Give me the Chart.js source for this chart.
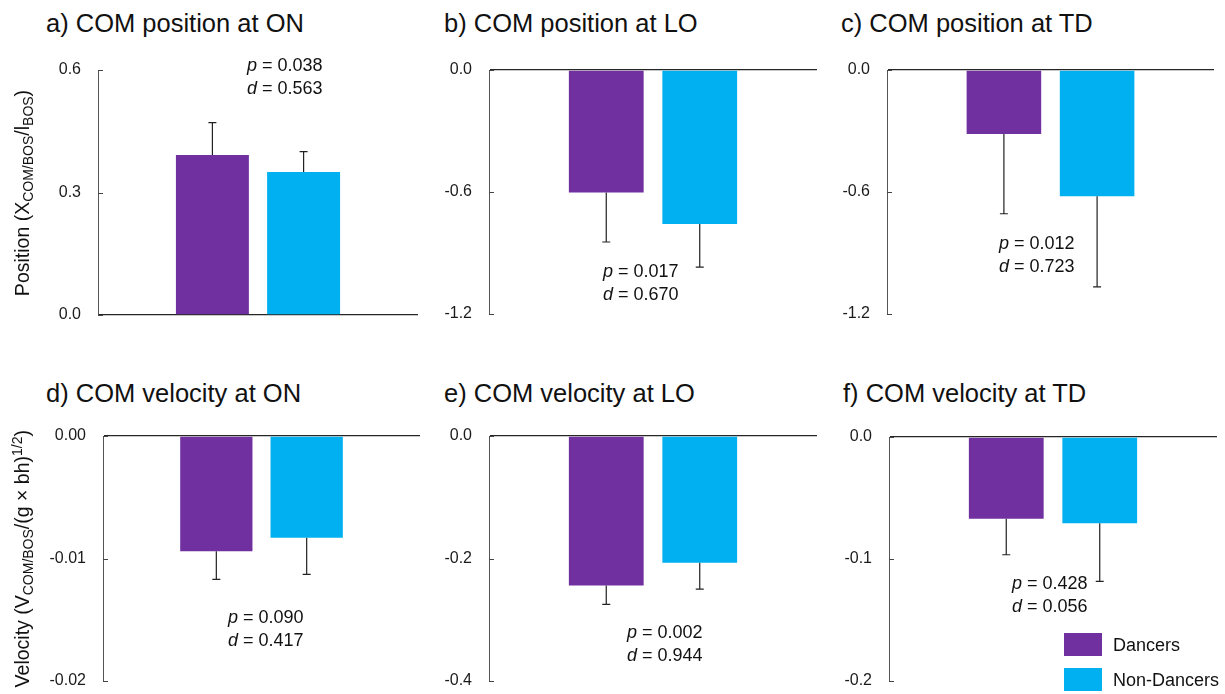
<!DOCTYPE html>
<html>
<head>
<meta charset="utf-8">
<script src="https://cdn.jsdelivr.net/npm/chart.js@4.4.1/dist/chart.umd.min.js"></script>
<style>
  body { margin: 0; background: #fff; font-family: Arial, "Liberation Sans", sans-serif; color: #111; }
  #fig { position: relative; width: 1225px; height: 694px; overflow: hidden; }
  .panel { position: absolute; }
  .ttl { position: absolute; font-size: 25.5px; line-height: 1; white-space: nowrap; }
  .stat { position: absolute; font-size: 18px; line-height: 23px; white-space: nowrap; }
  .ylab { position: absolute; font-size: 19.5px; line-height: 1.2; white-space: nowrap; }
  .ylab.mid { transform: translate(-50%, -50%) rotate(-90deg); }
  .ylab.top { transform-origin: 0 0; transform: rotate(-90deg) translate(-100%, -50%); }
  .ylab sub { font-size: 14px; vertical-align: -0.25em; line-height: 0; }
  .ylab sup { font-size: 14px; vertical-align: 0.5em; line-height: 0; }
  .swatch { position: absolute; width: 38px; height: 23px; }
  .legtxt { position: absolute; font-size: 18px; line-height: 23px; white-space: nowrap; }
</style>
</head>
<body>
<div id="fig"></div>
<script>
// ---- data ----
const panelTitles = [
  'a) COM position at ON', 'b) COM position at LO', 'c) COM position at TD',
  'd) COM velocity at ON', 'e) COM velocity at LO', 'f) COM velocity at TD'
];
const groups = ['Dancers', 'Non-Dancers'];
const dancersMean    = [0.392, -0.603, -0.315, -0.0094, -0.244, -0.067];
const dancersSD      = [0.079,  0.243,  0.392,  0.0023,  0.031,  0.0295];
const nonDancersMean = [0.350, -0.757, -0.621, -0.0083, -0.207, -0.0707];
const nonDancersSD   = [0.050,  0.212,  0.446,  0.0030,  0.043,  0.0476];
const pValues = ['0.038', '0.017', '0.012', '0.090', '0.002', '0.428'];
const dValues = ['0.563', '0.670', '0.723', '0.417', '0.944', '0.056'];
const yTickValues = [
  [0, 0.3, 0.6], [-1.2, -0.6, 0], [-1.2, -0.6, 0],
  [-0.02, -0.01, 0], [-0.4, -0.2, 0], [-0.2, -0.1, 0]
];
const yTickLabels = [
  ['0.0', '0.3', '0.6'], ['-1.2', '-0.6', '0.0'], ['-1.2', '-0.6', '0.0'],
  ['-0.02', '-0.01', '0.00'], ['-0.4', '-0.2', '0.0'], ['-0.2', '-0.1', '0.0']
];

// ---- layout (page pixels) ----
const plotBoxes = [
  { l: 98,  t: 70,  r: 418,  b: 315 },
  { l: 489, t: 70,  r: 817,  b: 314 },
  { l: 887, t: 70,  r: 1214, b: 314 },
  { l: 103, t: 436, r: 420,  b: 681 },
  { l: 489, t: 436, r: 817,  b: 681 },
  { l: 889, t: 437, r: 1217, b: 681 }
];
const titlePos = [[46, 11], [444, 11], [841, 11], [46, 381], [444, 381], [843, 381]];
const statPos  = [[247, 54], [603, 260], [999, 232], [228, 606], [627, 621], [1012, 572]];
const colors = ['#7030A0', '#00B0F0'];

const fig = document.getElementById('fig');

function addDiv(cls, x, y, html) {
  const d = document.createElement('div');
  d.className = cls;
  d.style.left = x + 'px';
  d.style.top = y + 'px';
  d.innerHTML = html;
  fig.appendChild(d);
  return d;
}

// error bars drawn from the bar elements and the y scale
const errorBars = {
  id: 'errorBars',
  afterDatasetsDraw(chart) {
    const ctx = chart.ctx, y = chart.scales.y;
    ctx.save();
    ctx.strokeStyle = '#222';
    ctx.lineWidth = 1.2;
    chart.data.datasets.forEach((ds, i) => {
      chart.getDatasetMeta(i).data.forEach((el, j) => {
        const v = ds.data[j], e = ds.errors[j];
        const y2 = y.getPixelForValue(v + Math.sign(v) * e);
        ctx.beginPath();
        ctx.moveTo(el.x, el.y);
        ctx.lineTo(el.x, y2);
        ctx.moveTo(el.x - 4, y2);
        ctx.lineTo(el.x + 4, y2);
        ctx.stroke();
      });
    });
    ctx.restore();
  }
};

// small inward tick marks on the y axis
const innerTicks = {
  id: 'innerTicks',
  afterDraw(chart) {
    const ctx = chart.ctx, y = chart.scales.y, a = chart.chartArea;
    ctx.save();
    ctx.strokeStyle = '#444';
    ctx.lineWidth = 1;
    y.ticks.forEach(t => {
      const py = Math.round(y.getPixelForValue(t.value)) + 0.5;
      ctx.beginPath();
      ctx.moveTo(a.left, py);
      ctx.lineTo(a.left + 5, py);
      ctx.stroke();
    });
    ctx.restore();
  }
};

const padL = 90, padT = 15, padR = 8, padB = 15;

panelTitles.forEach((title, i) => {
  const box = plotBoxes[i];
  const wrap = document.createElement('div');
  wrap.className = 'panel';
  wrap.style.left = (box.l - padL) + 'px';
  wrap.style.top = (box.t - padT) + 'px';
  wrap.style.width = (box.r - box.l + padL + padR) + 'px';
  wrap.style.height = (box.b - box.t + padT + padB) + 'px';
  const canvas = document.createElement('canvas');
  wrap.appendChild(canvas);
  fig.appendChild(wrap);

  const tv = yTickValues[i], tl = yTickLabels[i];
  new Chart(canvas, {
    type: 'bar',
    data: {
      labels: [''],
      datasets: [
        { label: groups[0], data: [dancersMean[i]], errors: [dancersSD[i]], backgroundColor: colors[0] },
        { label: groups[1], data: [nonDancersMean[i]], errors: [nonDancersSD[i]], backgroundColor: colors[1] }
      ]
    },
    options: {
      responsive: true,
      maintainAspectRatio: false,
      animation: false,
      categoryPercentage: 0.57,
      barPercentage: 0.8,
      layout: { padding: { left: 0, top: padT, right: padR, bottom: padB } },
      plugins: { legend: { display: false }, tooltip: { enabled: false } },
      scales: {
        x: { display: false },
        y: {
          min: Math.min(...tv),
          max: Math.max(...tv),
          afterFit: s => { s.width = padL; s.paddingTop = 0; s.paddingBottom = 0; },
          afterBuildTicks: s => { s.ticks = tv.map(v => ({ value: v })); },
          ticks: {
            padding: 17,
            color: '#1a1a1a',
            font: { family: 'Arial, "Liberation Sans", sans-serif', size: 16 },
            callback: v => tl[tv.indexOf(v)]
          },
          grid: {
            drawTicks: false,
            color: c => (c.tick && c.tick.value === 0) ? '#262626' : 'rgba(0,0,0,0)',
            lineWidth: c => (c.tick && c.tick.value === 0) ? 1.3 : 0
          },
          border: { display: true, color: '#555', width: 1 }
        }
      }
    },
    plugins: [errorBars, innerTicks]
  });

  addDiv('ttl', titlePos[i][0], titlePos[i][1], title);
  addDiv('stat', statPos[i][0], statPos[i][1],
    '<i>p</i> = ' + pValues[i] + '<br><i>d</i> = ' + dValues[i]);
});

// y-axis titles
addDiv('ylab mid', 23, 193, 'Position (X<sub>COM/BOS</sub>/l<sub>BOS</sub>)');
addDiv('ylab top', 23, 430, 'Velocity (V<sub>COM/BOS</sub>/(g × bh)<sup>1/2</sup>)');

// legend
const legY = [633, 668];
groups.forEach((g, k) => {
  const s = addDiv('swatch', 1064, legY[k], '');
  s.style.background = colors[k];
  addDiv('legtxt', 1113, legY[k] + 1, g);
});
</script>
</body>
</html>
